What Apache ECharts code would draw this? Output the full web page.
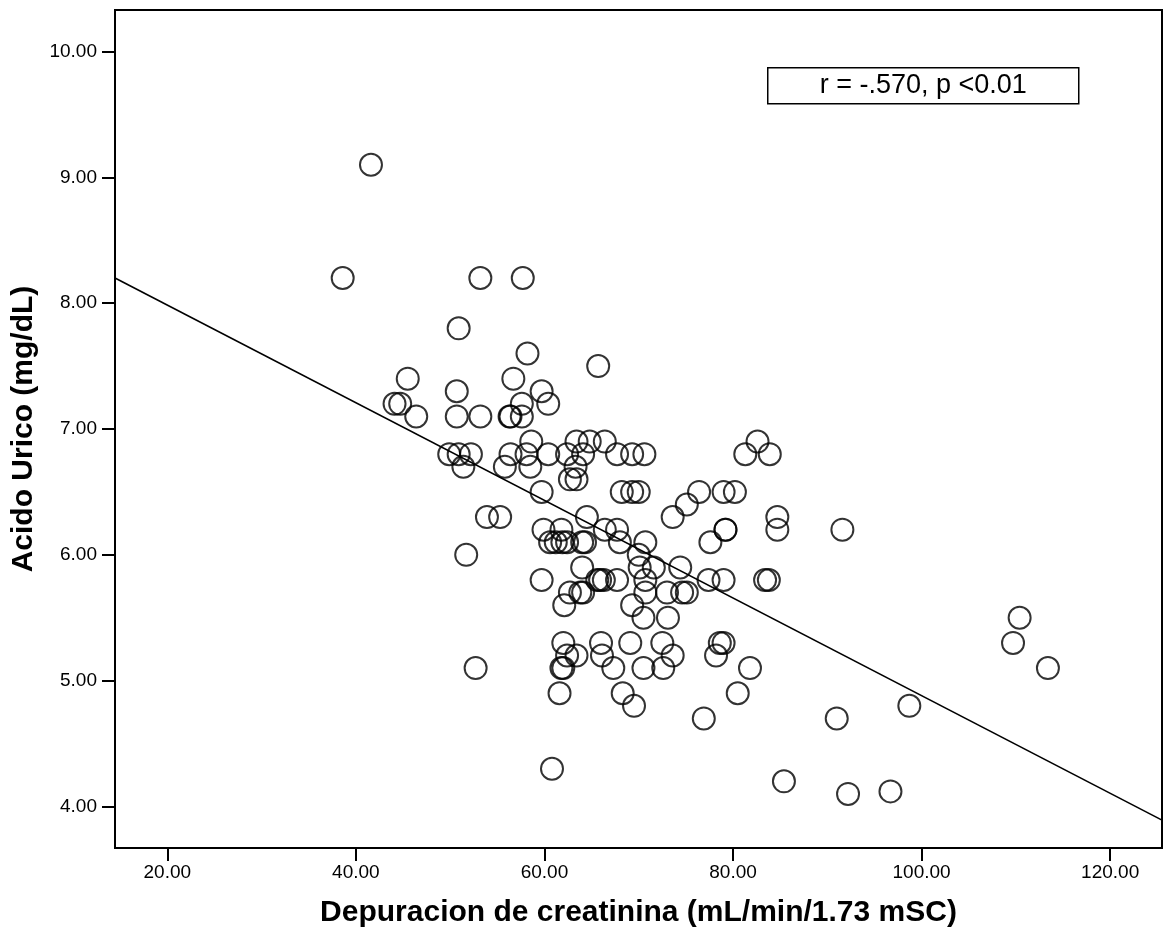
<!doctype html>
<html lang="es">
<head>
    <meta charset="UTF-8">
    <title>Acido urico vs depuracion de creatinina</title>
    <script src="https://cdn.jsdelivr.net/npm/echarts@6/dist/echarts.min.js"></script>
    <style>
        html, body { margin: 0; padding: 0; background: #fff; }
        #main { width: 1163px; height: 936px; }
    </style>
</head>
<body>
<div id="main"></div>
<script type="text/javascript">
    // depuracion de creatinina (mL/min/1.73 mSC), one entry per patient
    var clearance = [
        41.6,
        38.6, 53.2, 57.7,
        50.9,
        58.2,
        65.7,
        45.5, 56.7,
        50.7, 59.7,
        44.1, 44.7, 57.6, 60.4,
        46.4, 50.7, 53.2, 56.3, 56.4, 57.6,
        58.6, 63.4, 64.8, 66.4, 82.6,
        49.9, 50.9, 52.2, 56.4, 58.1, 60.4, 62.4, 64.1, 67.7, 69.3, 70.6, 81.3, 83.9,
        51.4, 55.8, 58.5, 63.3,
        62.7, 63.4,
        59.7, 68.2, 69.3, 70.0, 76.4, 79.0, 80.2,
        75.1,
        53.9, 55.3, 64.5, 73.6, 84.7,
        59.9, 61.8, 66.4, 67.7, 79.2, 79.2, 84.7, 91.6,
        60.6, 61.2, 61.9, 62.4, 64.0, 64.3, 68.0, 70.7, 77.6,
        51.7, 70.0,
        64.0, 70.1, 71.6, 74.4,
        59.7, 65.6, 65.9, 66.3, 67.7, 70.7, 77.4, 79.0, 83.4, 83.8,
        62.7, 63.8, 64.1, 70.7, 73.0, 74.6, 75.1,
        62.1, 69.3,
        70.5, 73.1, 110.4,
        62.0, 66.0, 69.1, 72.5, 78.6, 79.0, 109.7,
        62.4, 63.4, 66.1, 73.6, 78.2,
        52.7, 61.8, 62.0, 67.3, 70.5, 72.6, 81.8, 113.4,
        61.6, 68.3, 80.5,
        69.5, 98.7,
        76.9, 91.0,
        60.8,
        85.4,
        92.2,
        96.7
    ];

    // acido urico (mg/dL), same order as clearance
    var uricAcid = [
        9.1,
        8.2, 8.2, 8.2,
        7.8,
        7.6,
        7.5,
        7.4, 7.4,
        7.3, 7.3,
        7.2, 7.2, 7.2, 7.2,
        7.1, 7.1, 7.1, 7.1, 7.1, 7.1,
        6.9, 6.9, 6.9, 6.9, 6.9,
        6.8, 6.8, 6.8, 6.8, 6.8, 6.8, 6.8, 6.8, 6.8, 6.8, 6.8, 6.8, 6.8,
        6.7, 6.7, 6.7, 6.7,
        6.6, 6.6,
        6.5, 6.5, 6.5, 6.5, 6.5, 6.5, 6.5,
        6.4,
        6.3, 6.3, 6.3, 6.3, 6.3,
        6.2, 6.2, 6.2, 6.2, 6.2, 6.2, 6.2, 6.2,
        6.1, 6.1, 6.1, 6.1, 6.1, 6.1, 6.1, 6.1, 6.1,
        6.0, 6.0,
        5.9, 5.9, 5.9, 5.9,
        5.8, 5.8, 5.8, 5.8, 5.8, 5.8, 5.8, 5.8, 5.8, 5.8,
        5.7, 5.7, 5.7, 5.7, 5.7, 5.7, 5.7,
        5.6, 5.6,
        5.5, 5.5, 5.5,
        5.3, 5.3, 5.3, 5.3, 5.3, 5.3, 5.3,
        5.2, 5.2, 5.2, 5.2, 5.2,
        5.1, 5.1, 5.1, 5.1, 5.1, 5.1, 5.1, 5.1,
        4.9, 4.9, 4.9,
        4.8, 4.8,
        4.7, 4.7,
        4.3,
        4.2,
        4.1,
        4.12
    ];

    var xTicks = [20, 40, 60, 80, 100, 120];
    var yTicks = [4, 5, 6, 7, 8, 9, 10];

    // linear fit line
    var fitIntercept = 8.761;
    var fitSlope = -0.0388;
    var corrText = 'r = -.570, p <0.01';

    var X_MIN = 14.45, X_MAX = 125.5;
    var Y_MIN = 3.67, Y_MAX = 10.33;

    var points = clearance.map(function (x, i) {
        return [x, uricAcid[i]];
    });
    var fitLine = [
        [X_MIN, fitIntercept + fitSlope * X_MIN],
        [X_MAX, fitIntercept + fitSlope * X_MAX]
    ];

    var chart = echarts.init(document.getElementById('main'), null, {renderer: 'canvas'});

    var labelFont = {
        color: '#000',
        fontSize: 19,
        fontFamily: 'Liberation Sans, Arial, sans-serif'
    };
    var nameFont = {
        color: '#000',
        fontSize: 30,
        fontWeight: 'bold',
        fontFamily: 'Liberation Sans, Arial, sans-serif'
    };

    var option = {
        animation: false,
        backgroundColor: '#fff',
        grid: {
            left: 115,
            top: 10,
            right: 1,
            bottom: 88,
            show: true,
            borderColor: '#000',
            borderWidth: 2,
            containLabel: false
        },
        xAxis: {
            type: 'value',
            min: X_MIN,
            max: X_MAX,
            name: 'Depuracion de creatinina (mL/min/1.73 mSC)',
            nameLocation: 'middle',
            nameGap: 50,
            nameTextStyle: nameFont,
            axisLine: {show: true, lineStyle: {color: '#000', width: 2}},
            axisTick: {show: true, length: 13, lineStyle: {color: '#000', width: 2}, customValues: xTicks},
            axisLabel: Object.assign({
                margin: 15,
                customValues: xTicks,
                formatter: function (v) { return v.toFixed(2); }
            }, labelFont),
            splitLine: {show: false}
        },
        yAxis: {
            type: 'value',
            min: Y_MIN,
            max: Y_MAX,
            name: 'Acido Urico (mg/dL)',
            nameLocation: 'middle',
            nameGap: 71,
            nameTextStyle: nameFont,
            axisLine: {show: true, lineStyle: {color: '#000', width: 2}},
            axisTick: {show: true, length: 13, lineStyle: {color: '#000', width: 2}, customValues: yTicks},
            axisLabel: Object.assign({
                margin: 18,
                customValues: yTicks,
                formatter: function (v) { return v.toFixed(2); }
            }, labelFont),
            splitLine: {show: false}
        },
        graphic: [{
            type: 'group',
            left: 767,
            top: 67,
            children: [{
                type: 'rect',
                shape: {x: 0, y: 0, width: 311, height: 36},
                style: {fill: '#fff', stroke: '#000', lineWidth: 1.5}
            }, {
                type: 'text',
                x: 155.5,
                y: 18,
                style: {
                    text: corrText,
                    fill: '#000',
                    font: '27px "Liberation Sans", Arial, sans-serif',
                    align: 'center',
                    verticalAlign: 'middle'
                }
            }]
        }],
        series: [
            {
                name: 'ajuste',
                type: 'line',
                data: fitLine,
                symbol: 'none',
                silent: true,
                lineStyle: {color: '#000', width: 1.6},
                z: 1
            },
            {
                name: 'pacientes',
                type: 'scatter',
                data: points,
                symbol: 'circle',
                symbolSize: 22,
                silent: true,
                itemStyle: {
                    color: 'rgba(0,0,0,0)',
                    borderColor: '#000',
                    borderWidth: 2
                },
                z: 2
            }
        ]
    };

    chart.setOption(option);
</script>
</body>
</html>
